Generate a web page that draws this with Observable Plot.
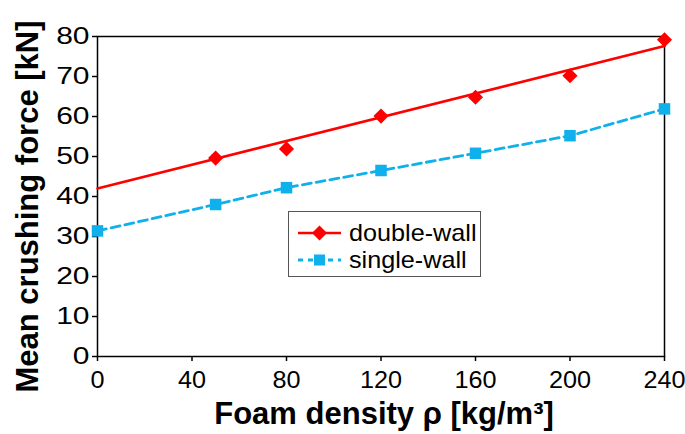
<!DOCTYPE html>
<html><head><meta charset="utf-8">
<script src="https://cdn.jsdelivr.net/npm/d3@7"></script>
<script src="https://cdn.jsdelivr.net/npm/@observablehq/plot@0.6"></script>
<style>
body{margin:0;background:#fff;font-family:"Liberation Sans",Arial,sans-serif;}
#wrap{position:relative;width:685px;height:434px;overflow:hidden;}
#legend{position:absolute;left:288px;top:211px;width:193px;height:66px;border:1px solid #555;background:#fff;box-sizing:border-box;}
#legend .row{position:absolute;left:0;height:26px;display:flex;align-items:center;}
#legend .row span{font-size:24px;color:#000;margin-left:4px;line-height:26px;display:inline-block;transform-origin:left center;transform:scaleX(1.05);}
</style></head><body><div id="wrap"></div>
<script>
const xTicks = [0, 40, 80, 120, 160, 200, 240];
const yTicks = [0, 10, 20, 30, 40, 50, 60, 70, 80];
const doubleX = [50, 80, 120, 160, 200, 240];
const doubleY = [49.6, 51.9, 60.1, 64.8, 70.2, 79.2];
const doubleFitX = [0, 240];
const doubleFitY = [42.0, 77.6];
const singleX = [0, 50, 80, 120, 160, 200, 240];
const singleY = [31.4, 38.0, 42.2, 46.5, 50.8, 55.2, 61.9];
const seriesNames = ["double-wall", "single-wall"];
const colors = ["#ff0000", "#0fb0ec"];
const xTitle = "Foam density ρ [kg/m³]";
const yTitle = "Mean crushing force [kN]";

const dbl = doubleX.map((x, i) => ({x, y: doubleY[i]}));
const dblFit = doubleFitX.map((x, i) => ({x, y: doubleFitY[i]}));
const sgl = singleX.map((x, i) => ({x, y: singleY[i]}));

const chart = Plot.plot({
  width: 685, height: 434,
  marginLeft: 97, marginRight: 21, marginTop: 36, marginBottom: 78,
  style: {fontFamily: "'Liberation Sans', Arial, sans-serif", fontSize: "24px", color: "#000", background: "#fff", overflow: "visible"},
  x: {domain: [0, 240]},
  y: {domain: [0, 80]},
  marks: [
    Plot.axisX({ticks: xTicks, tickSize: 5, tickPadding: 9, fontSize: 24, strokeWidth: 1.5, label: null}),
    Plot.axisY({ticks: yTicks, tickSize: 5, tickPadding: 3, fontSize: 24, strokeWidth: 1.5, label: null}),
    Plot.frame({stroke: "#000", strokeWidth: 1.5}),
    Plot.line(dblFit, {x: "x", y: "y", stroke: colors[0], strokeWidth: 2.6}),
    Plot.line(sgl, {x: "x", y: "y", stroke: colors[1], strokeWidth: 2.8, strokeDasharray: "9,5"}),
    Plot.dot(dbl, {x: "x", y: "y", symbol: "diamond2", r: 6.8, fill: colors[0], stroke: "none"}),
    Plot.dot(sgl, {x: "x", y: "y", symbol: "square", r: 6.5, fill: colors[1], stroke: "none"}),
    Plot.text([yTitle], {text: d => d, frameAnchor: "left", textAnchor: "middle", lineAnchor: "middle", rotate: -90, dx: -69, dy: 10, fontSize: 31, fontWeight: "bold", ariaLabel: "y-title"}),
    Plot.text([xTitle], {text: d => d, frameAnchor: "bottom", textAnchor: "middle", lineAnchor: "middle", dx: 3, dy: 58, fontSize: 31, fontWeight: "bold", ariaLabel: "x-title"})
  ]
});
const wrap = document.getElementById("wrap");
wrap.appendChild(chart);

function stretch(el, sx, sy) {
  const t = el.getAttribute("transform");
  if (t) {
    el.setAttribute("transform", `${t} scale(${sx},${sy})`);
  } else {
    let x = parseFloat(el.getAttribute("x")), y = parseFloat(el.getAttribute("y"));
    if (!isFinite(x)) x = 0;
    if (!isFinite(y)) y = 0;
    el.setAttribute("transform", `translate(${x},${y}) scale(${sx},${sy}) translate(${-x},${-y})`);
  }
}
chart.querySelectorAll('g[aria-label="x-axis tick label"] text').forEach(el => stretch(el, 1.05, 1));
chart.querySelectorAll('g[aria-label="y-axis tick label"] text').forEach(el => stretch(el, 1.25, 1));
chart.querySelectorAll('g[aria-label="y-title"] text').forEach(el => stretch(el, 1, 1.15));

// legend
const leg = document.createElement("div");
leg.id = "legend";
const sym = [
  `<svg width="56" height="26"><line x1="9" y1="13" x2="52" y2="13" stroke="${colors[0]}" stroke-width="2.6"/><path d="M30.5,5.5L38,13L30.5,20.5L23,13Z" fill="${colors[0]}"/></svg>`,
  `<svg width="56" height="26"><line x1="9" y1="13" x2="52" y2="13" stroke="${colors[1]}" stroke-width="2.8" stroke-dasharray="5,5"/><rect x="25" y="7.5" width="11" height="11" fill="${colors[1]}"/></svg>`
];
seriesNames.forEach((name, i) => {
  const row = document.createElement("div");
  row.className = "row";
  row.style.top = (8 + i * 27) + "px";
  row.innerHTML = sym[i] + `<span>${name}</span>`;
  leg.appendChild(row);
});
wrap.appendChild(leg);
</script></body></html>
